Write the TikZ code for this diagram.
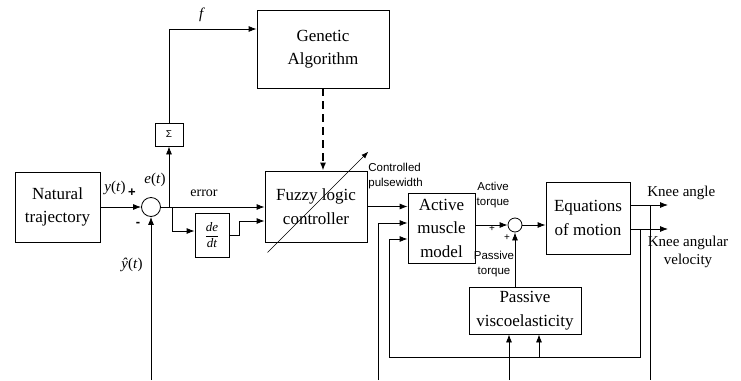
\documentclass[tikz,border=0pt]{standalone}
\usepackage{amsmath}
\usepackage{fontspec}
\setmainfont{Liberation Serif}
\setsansfont{Liberation Sans}
\usetikzlibrary{arrows.meta}

\begin{document}
\begin{tikzpicture}[x=1pt, y=-1pt, line width=0.8pt,
    >={Latex[length=8pt,width=6pt]},
    block/.style={draw, align=center, inner sep=1pt, font=\fontsize{17}{23.5}\selectfont},
    sumnode/.style={draw, circle, inner sep=0pt},
    lbl/.style={inner sep=0pt, font=\fontsize{15}{18}\selectfont},
    small/.style={inner sep=0pt, align=center, font=\sffamily\fontsize{11.5}{15}\selectfont},
    sign/.style={inner sep=0pt, font=\sffamily\bfseries\fontsize{13}{13}\selectfont}]
    \useasboundingbox (0,0) rectangle (741,380);
    % Blocks
    \node [block, minimum width=85, minimum height=70] (nat) at (57.5,207) {Natural\\trajectory};
    \node [sumnode, minimum size=19] (sum1) at (151,207) {};
    \node [draw, minimum width=28, minimum height=23, inner sep=0pt,
           font=\sffamily\fontsize{10}{10}\selectfont] (sigma) at (169,134.5) {Σ};
    \node [block, minimum width=132, minimum height=78] (ga) at (323,49) {Genetic\\Algorithm};
    \node [block, minimum width=102, minimum height=71] (flc) at (316,206.5) {Fuzzy logic\\controller};
    \node [draw, minimum width=34, minimum height=44, inner sep=0pt,
           font=\fontsize{13}{13}\selectfont] (dedt) at (212,235) {$\dfrac{\textit{de}}{\textit{dt}}$};
    \node [block, minimum width=67, minimum height=70] (amm) at (441.5,228) {Active\\muscle\\model};
    \node [sumnode, minimum size=14] (sum2) at (515,225) {};
    \node [block, minimum width=84, minimum height=72] (eom) at (588,218) {Equations\\of motion};
    \node [block, minimum width=112, minimum height=47] (pv) at (525,310.5) {Passive\\viscoelasticity};

    % Labels
    \node [lbl] (ylab) at (115,188) {\textit{y}(\textit{t})};
    \node [sign] (plus1) at (132,193) {+};
    \node [sign] (minus1) at (138,224) {-};
    \node [lbl] (elab) at (155,180) {\textit{e}(\textit{t})};
    \node [lbl] (yhat) at (132,265) {\textit{ŷ}(\textit{t})};
    \node [lbl, font=\fontsize{14}{14}\selectfont] (err) at (204,193) {error};
    \node [lbl] (flab) at (202,15) {\textit{f}};
    \node [small, anchor=west, align=left] (cpw) at (368,176) {Controlled\\pulsewidth};
    \node [small] (atq) at (493,195.5) {Active\\torque};
    \node [small] (ptq) at (494,264) {Passive\\torque};
    \node [sign, font=\sffamily\fontsize{10}{10}\selectfont] (plus2) at (492,229) {+};
    \node [sign, font=\sffamily\fontsize{10}{10}\selectfont] (plus3) at (507,238) {+};
    \node [lbl, anchor=west] (kalab) at (647,193) {Knee angle};
    \node [lbl, align=center] (kvlab) at (688,252) {Knee angular\\velocity};

    % Helper points
    \coordinate (kaout) at (668,205);
    \coordinate (kvout) at (668,229);
    \coordinate (kabot) at (650,380);
    \coordinate (fbr) at (640,229);
    \coordinate (fbl) at (389,357);
    \coordinate (fbm) at (539,357);
    \coordinate (yin) at (151,380);
    \coordinate (amin) at (378,380);
    \coordinate (pvin) at (509,380);

    % Forward path
    \draw [->] (nat.east) -- (sum1.west);
    \draw [->] (sum1.east) -- (sum1 -| flc.west);
    \draw [->] (sum1 -| sigma.south) -- (sigma.south);
    \draw [->] (sigma.north) |- ([yshift=20pt]ga.west);
    \draw [->] (sum1 -| 172,0) |- ([yshift=4pt]dedt.west);
    \draw [->] (dedt.east) -- ++(10,0) |- ([yshift=-14.5pt]flc.west);
    \draw [->, line width=1.3pt, dash pattern=on 8pt off 5pt] (ga.south) -- (ga.south |- flc.north);
    \draw [->, line width=0.6pt, >={Latex[length=7pt,width=5pt]}]
        ([shift={(3pt,-10pt)}]flc.south west) -- ([shift={(1pt,19pt)}]flc.north east);
    \draw [->] (flc.east) -- (flc.east -| amm.west);
    \draw [->] (sum2.west -| amm.east) -- (sum2.west);
    \draw [->] (sum2.east) -- (sum2.east -| eom.west);
    \draw [->] (sum2 |- pv.north) -- (sum2.south);
    \draw [->] ([yshift=13pt]eom.east) -- (kaout);
    \draw [->] ([yshift=-11pt]eom.east) -- (kvout);

    % Feedback
    \draw (kaout -| kabot) -- (kabot);
    \draw [->] (fbr) |- (fbl) |- ([yshift=-11pt]amm.west);
    \draw [->] (fbm) -- (fbm |- pv.south);
    \draw [->] (yin) -- (sum1.south);
    \draw [->] (amin) |- ([yshift=5pt]amm.west);
    \draw [->] (pvin) -- (pvin |- pv.south);
\end{tikzpicture}
\end{document}
